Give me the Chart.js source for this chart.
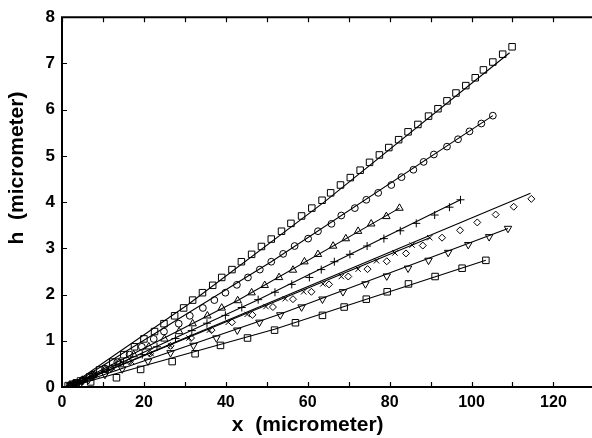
<!DOCTYPE html>
<html>
<head>
<meta charset="utf-8">
<script src="https://cdn.jsdelivr.net/npm/chart.js@4.4.1/dist/chart.umd.min.js"></script>
<style>
  html, body { margin: 0; padding: 0; background: #fff; overflow: hidden; }
  #chart { display: block; }
</style>
</head>
<body>
<canvas id="chart" width="600" height="438"></canvas>
<script>
// axis ticks
const xTickLabels = [0, 20, 40, 60, 80, 100, 120]
const xMinorTicks = [0, 10, 20, 30, 40, 50, 60, 70, 80, 90, 100, 110, 120]
const yTickLabels = [0, 1, 2, 3, 4, 5, 6, 7, 8]

// measured points [x, h] in micrometer
const squaresTop = [[1.5,0.03],[2.5,0.06],[3.5,0.09],[4.5,0.13],[6.8,0.22],[9.2,0.37],[12.4,0.54],[15.1,0.70],[17.7,0.87],[20.0,1.04],[22.6,1.20],[24.9,1.37],[27.5,1.54],[29.7,1.71],[31.9,1.88],[34.3,2.04],[36.8,2.20],[39.0,2.37],[41.5,2.54],[43.8,2.71],[46.3,2.87],[48.7,3.04],[51.1,3.20],[53.6,3.37],[55.9,3.54],[58.5,3.70],[61.0,3.87],[63.5,4.04],[65.6,4.20],[68.0,4.37],[70.4,4.53],[72.8,4.69],[75.1,4.86],[77.5,5.02],[79.8,5.18],[82.2,5.35],[84.5,5.52],[86.9,5.68],[89.5,5.86],[91.8,6.02],[94.0,6.19],[96.2,6.36],[98.6,6.52],[100.9,6.69],[102.9,6.86],[105.2,7.03],[107.6,7.20],[109.9,7.36]]
const circles = [[2,0.03],[3,0.07],[5,0.15],[7.5,0.27],[10.5,0.40],[13.5,0.54],[16.5,0.70],[19.5,0.87],[22.4,1.04],[24.9,1.20],[28.5,1.37],[31.2,1.54],[34.4,1.71],[37.2,1.88],[39.9,2.04],[42.7,2.21],[45.4,2.37],[48.3,2.54],[51.1,2.71],[54.0,2.88],[56.8,3.05],[60.1,3.21],[62.5,3.37],[65.8,3.53],[68.2,3.71],[71.5,3.87],[74.3,4.05],[77.2,4.20],[80.4,4.37],[82.9,4.54],[85.8,4.70],[88.3,4.87],[90.8,5.03],[94.0,5.20],[96.7,5.36],[99.5,5.53],[102.4,5.70],[105.2,5.87]]
const triangles = [[2,0.03],[3,0.07],[5,0.15],[7.5,0.25],[10.5,0.38],[14,0.54],[17.5,0.70],[21.2,0.87],[25.0,1.04],[28.6,1.20],[31.9,1.37],[35.5,1.54],[39.0,1.71],[42.9,1.87],[46.3,2.04],[49.5,2.20],[53.0,2.37],[56.4,2.53],[59.2,2.71],[62.5,2.87],[66.2,3.05],[69.3,3.21],[72.3,3.37],[75.5,3.53],[79.2,3.69],[82.4,3.87]]
const pluses = [[2,0.03],[3,0.06],[5,0.12],[7.5,0.22],[11,0.37],[15,0.54],[19.6,0.70],[23.2,0.87],[27.7,1.05],[31.7,1.22],[35.4,1.38],[39.9,1.55],[43.9,1.72],[47.9,1.89],[52.0,2.05],[56.1,2.22],[60.4,2.37],[63.3,2.54],[66.5,2.71],[70.3,2.87],[74.5,3.05],[78.6,3.21],[82.6,3.38],[86.5,3.54],[91.0,3.72],[94.6,3.89],[97.3,4.05]]
const crosses = [[2,0.03],[3.2,0.07],[5.5,0.15],[8.5,0.26],[12.5,0.40],[17,0.55],[21.8,0.72],[26.5,0.89],[31,1.06],[36,1.23],[40.6,1.40],[45.2,1.57],[49.8,1.74],[54.5,1.91],[59.0,2.06],[63.7,2.23],[68.2,2.39],[72.3,2.55],[76.8,2.73],[81.3,2.90],[85.5,3.07],[89.8,3.23]]
const diamonds = [[2,0.03],[3,0.07],[5,0.15],[8,0.26],[12,0.40],[16.5,0.55],[21.5,0.72],[26.5,0.89],[31.5,1.06],[36.5,1.23],[41.5,1.40],[46.5,1.56],[51.5,1.73],[56.4,1.90],[60.9,2.06],[65.2,2.22],[69.9,2.39],[74.6,2.55],[79.3,2.72],[84.0,2.89],[88.1,3.06],[92.8,3.23],[97.2,3.39],[101.4,3.56],[105.9,3.73],[110.3,3.90],[114.6,4.07]]
const downTriangles = [[2,0.03],[3.8,0.08],[6.5,0.16],[10.5,0.27],[14.7,0.39],[21.0,0.56],[26.5,0.74],[32.1,0.90],[37.7,1.06],[42.8,1.23],[48.2,1.40],[53.3,1.56],[58.5,1.73],[63.6,1.90],[68.6,2.06],[74.1,2.23],[79.3,2.40],[84.5,2.57],[89.5,2.74],[94.3,2.91],[99.2,3.08],[104.3,3.25],[108.9,3.43]]
const squaresBottom = [[2.5,0.03],[4,0.06],[7,0.11],[13.3,0.20],[19.2,0.38],[26.9,0.55],[32.5,0.72],[38.7,0.90],[45.3,1.06],[51.9,1.23],[57.0,1.39],[63.6,1.55],[68.9,1.73],[74.3,1.90],[79.4,2.06],[84.6,2.23],[91.1,2.39],[97.7,2.57],[103.5,2.74]]

// fitted curves
const fitSquaresTop = [[1.5,0],[30.7,1.78],[64,4.0],[109.3,7.23]]
const fitCircles = [[1.5,0],[51.1,2.71],[105.2,5.87]]
const fitTriangles = [[1.5,0],[42.9,1.87],[82.4,3.87]]
const fitPluses = [[1.5,0],[47.9,1.89],[97.3,4.05]]
const fitCrosses = [[1.5,0],[89.8,3.23]]
const fitDiamonds = [[1.5,0],[114.4,4.19]]
const fitDownTriangles = [[1.5,0],[53.3,1.58],[108.9,3.43]]
const fitSquaresBottom = [[1.5,0],[51.9,1.25],[103.5,2.74]]

const toXY = (arr) => arr.map(([x, y]) => ({ x, y }))

const markers = (data, pointStyle, radius, rotation = 0) => ({
    data: toXY(data),
    showLine: false,
    pointStyle,
    pointRadius: radius,
    pointRotation: rotation,
    pointBorderColor: '#000',
    pointBackgroundColor: 'rgba(0,0,0,0)',
    pointBorderWidth: 1,
})

const fit = (data) => ({
    data: toXY(data),
    showLine: true,
    borderColor: '#000',
    borderWidth: 1.1,
    pointRadius: 0,
    fill: false,
})

const FONT = '"Liberation Sans", Arial, Helvetica, sans-serif'

const frame = {
    id: 'frame',
    afterDraw(chart) {
        const { ctx, chartArea: a, scales: { x, y } } = chart
        ctx.save()
        ctx.strokeStyle = '#000'
        ctx.lineWidth = 2
        ctx.beginPath()
        ctx.moveTo(a.right, a.top)
        ctx.lineTo(a.left, a.top)
        ctx.lineTo(a.left, a.bottom)
        ctx.lineTo(a.right, a.bottom)
        ctx.stroke()

        ctx.lineWidth = 1.2
        ctx.beginPath()
        xMinorTicks.forEach(v => {
            const px = Math.round(x.getPixelForValue(v)) + 0.5
            ctx.moveTo(px, a.bottom); ctx.lineTo(px, a.bottom - 5)
            ctx.moveTo(px, a.top); ctx.lineTo(px, a.top + 5)
        })
        yTickLabels.forEach(v => {
            const py = Math.round(y.getPixelForValue(v)) + 0.5
            ctx.moveTo(a.left, py); ctx.lineTo(a.left + 5, py)
        })
        ctx.stroke()

        ctx.fillStyle = '#000'
        ctx.font = 'bold 21px ' + FONT
        ctx.textAlign = 'center'
        ctx.textBaseline = 'middle'
        ctx.fillText('x  (micrometer)', x.getPixelForValue(60), 425)
        ctx.translate(17, 168)
        ctx.rotate(-Math.PI / 2)
        ctx.fillText('h  (micrometer)', 0, 0)
        ctx.restore()
    }
}

new Chart(document.getElementById('chart'), {
    type: 'scatter',
    data: {
        datasets: [
            fit(fitSquaresTop),
            fit(fitCircles),
            fit(fitTriangles),
            fit(fitPluses),
            fit(fitCrosses),
            fit(fitDiamonds),
            fit(fitDownTriangles),
            fit(fitSquaresBottom),
            markers(squaresTop, 'rect', 4.6),
            markers(circles, 'circle', 3.4),
            markers(triangles, 'triangle', 4.3),
            markers(pluses, 'cross', 4),
            markers(crosses, 'crossRot', 3.8),
            markers(diamonds, 'rectRot', 3.5),
            markers(downTriangles, 'triangle', 4.3, 180),
            markers(squaresBottom, 'rect', 4.6),
        ]
    },
    options: {
        responsive: false,
        animation: false,
        events: [],
        layout: { padding: { top: 12, right: 5, left: 0, bottom: 0 } },
        plugins: { legend: { display: false }, tooltip: { enabled: false } },
        scales: {
            x: {
                min: 0,
                max: 130,
                afterBuildTicks: (s) => { s.ticks = xTickLabels.map(v => ({ value: v })) },
                afterFit: (s) => { s.height = 51 },
                grid: { display: false, drawTicks: false },
                border: { display: false },
                ticks: { color: '#000', font: { family: FONT, size: 16, weight: 'bold' }, padding: 6, maxRotation: 0 },
            },
            y: {
                min: 0,
                max: 8,
                afterBuildTicks: (s) => { s.ticks = yTickLabels.map(v => ({ value: v })) },
                afterFit: (s) => { s.width = 62 },
                grid: { display: false, drawTicks: false },
                border: { display: false },
                ticks: { color: '#000', font: { family: FONT, size: 17, weight: 'bold' }, padding: 7 },
            }
        }
    },
    plugins: [frame]
})
</script>
</body>
</html>
